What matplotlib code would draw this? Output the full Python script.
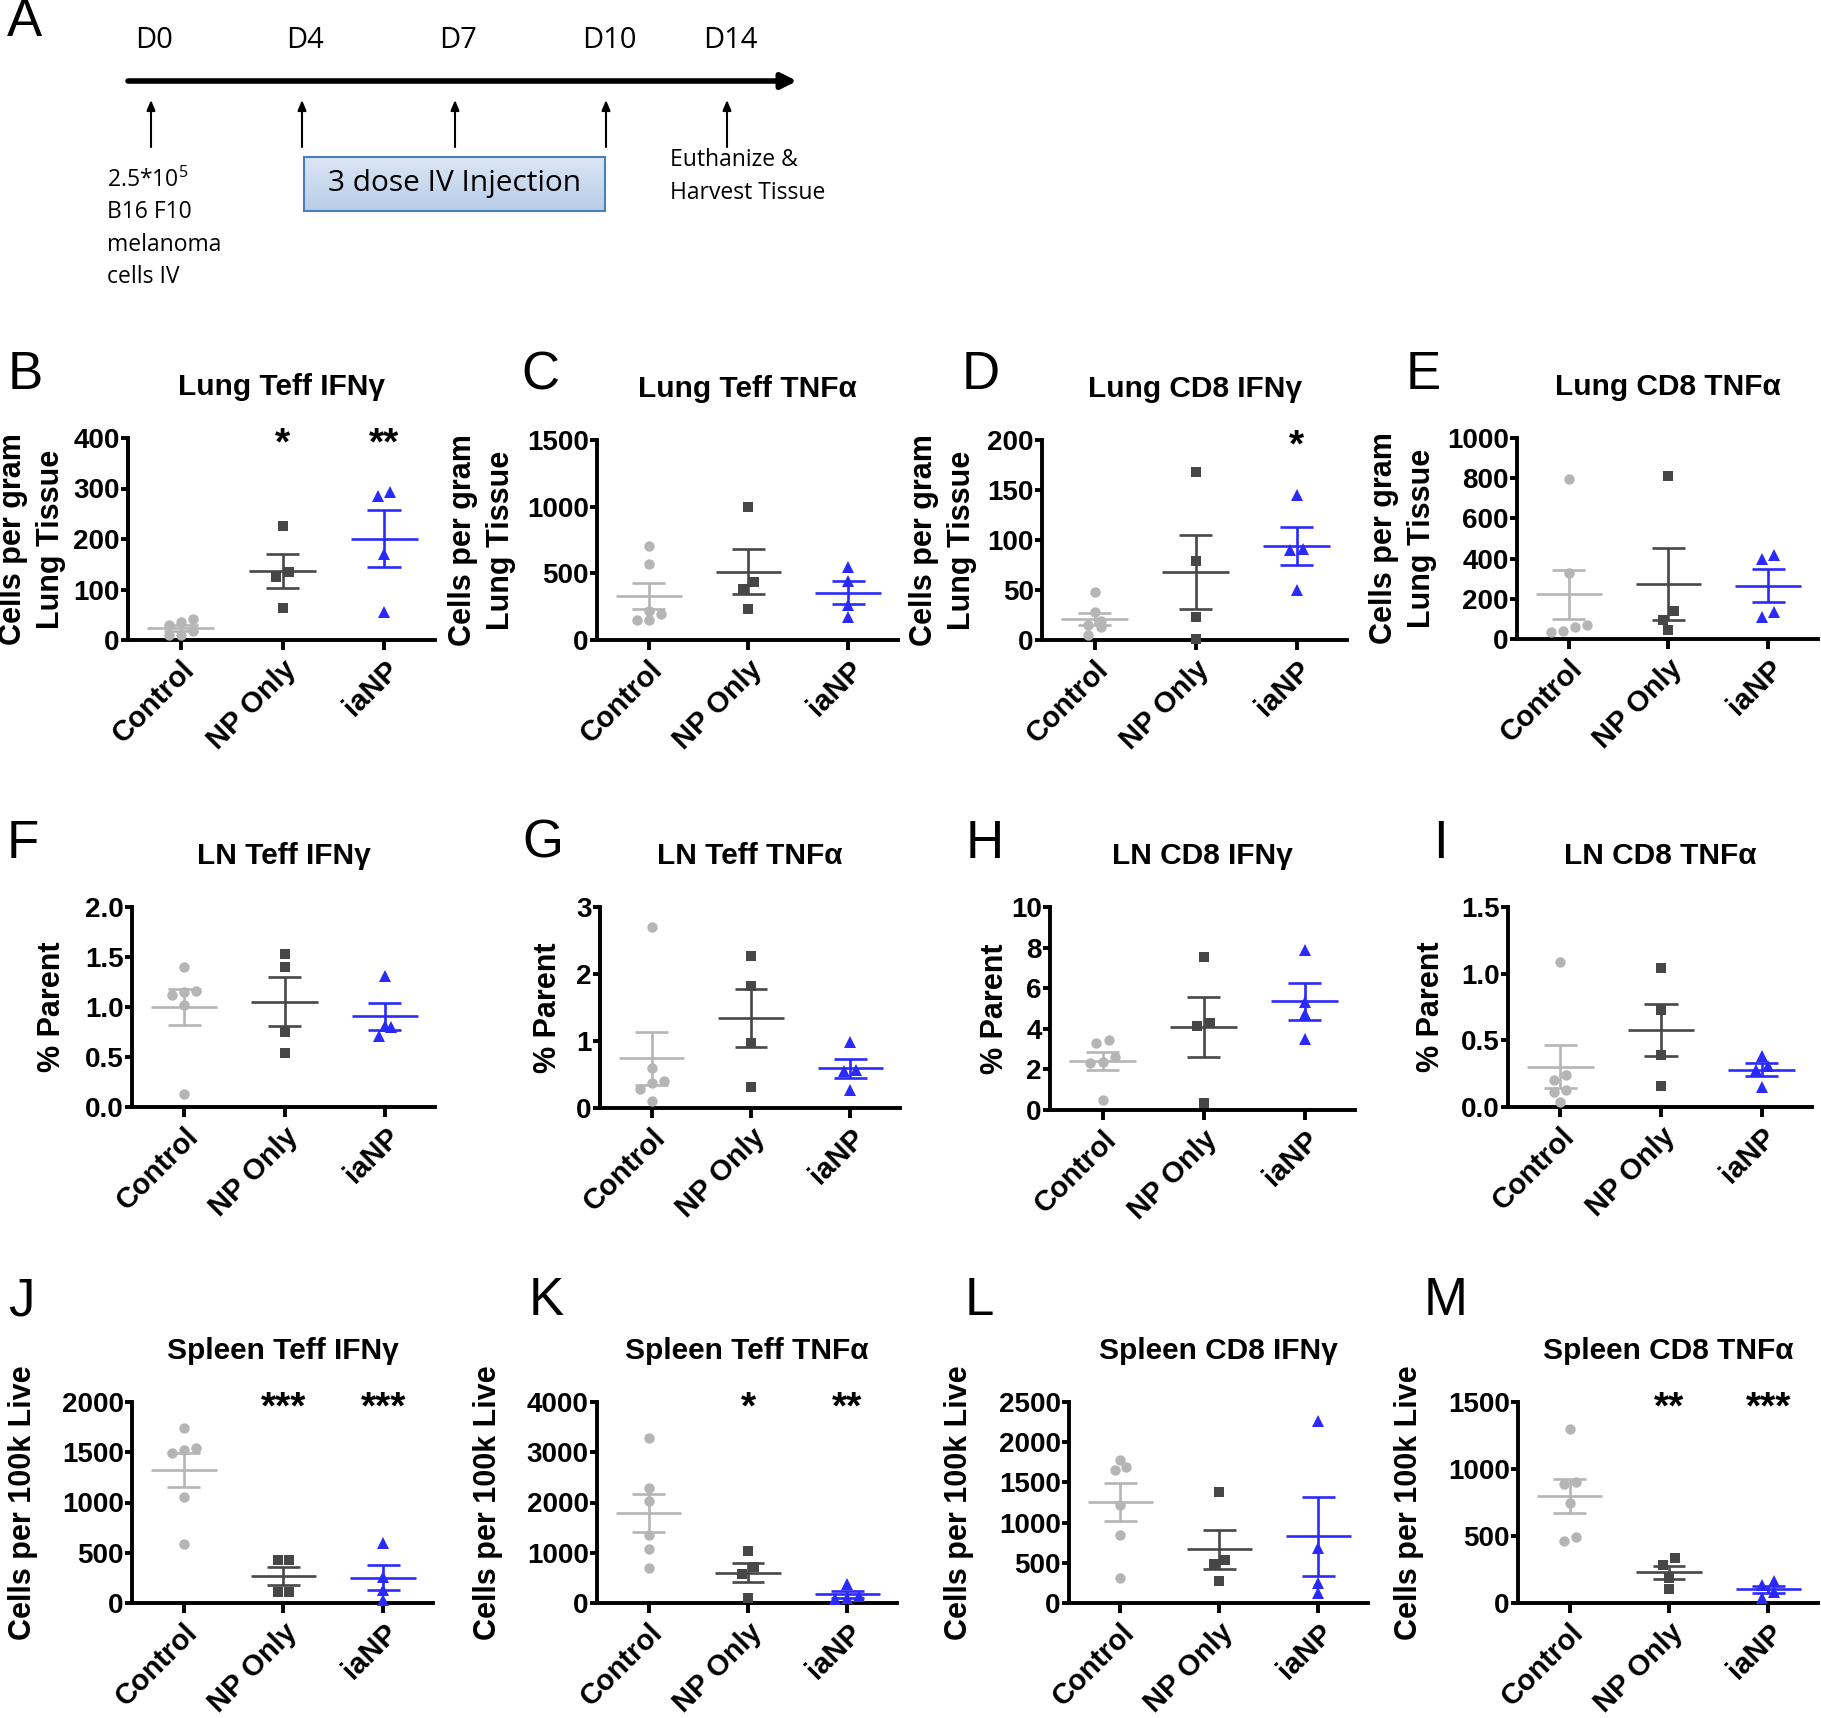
import numpy as np
import matplotlib
matplotlib.use('Agg')
import matplotlib.pyplot as plt
from matplotlib.patches import Rectangle
from matplotlib.colors import LinearSegmentedColormap

plt.rcParams['font.family'] = ['Liberation Sans', 'DejaVu Sans']

W, H = 1821, 1718
fig = plt.figure(figsize=(W / 100, H / 100), dpi=100)

# ---------------- data ----------------
groups = ['Control', 'NP Only', 'iaNP']
group_colors = ['#b5b5b5', '#474747', '#2a2aff']
group_markers = ['o', 's', '^']

lung_teff_ifng = [[42, 35, 30, 18, 10, 10], [225, 135, 125, 63], [285, 293, 170, 55]]
lung_teff_tnfa = [[705, 568, 193, 150, 150, 218], [1000, 437, 382, 232], [545, 440, 262, 170]]
lung_cd8_ifng = [[48, 28, 15, 19, 13, 5], [168, 79, 23, 1], [145, 91, 90, 50]]
lung_cd8_tnfa = [[795, 328, 60, 35, 40, 72], [813, 138, 97, 47], [417, 400, 110, 133]]
ln_teff_ifng = [[1.40, 1.12, 1.16, 1.15, 1.02, 0.13], [1.53, 1.40, 0.75, 0.54], [1.31, 0.81, 0.80, 0.71]]
ln_teff_tnfa = [[2.70, 0.59, 0.38, 0.41, 0.28, 0.10], [2.27, 1.82, 0.97, 0.32], [0.98, 0.57, 0.55, 0.27]]
ln_cd8_ifng = [[3.45, 3.29, 2.63, 2.38, 2.30, 0.48], [7.55, 4.28, 4.14, 0.36], [7.89, 5.30, 4.72, 3.52]]
ln_cd8_tnfa = [[1.09, 0.24, 0.205, 0.125, 0.11, 0.04], [1.04, 0.725, 0.39, 0.16], [0.305, 0.28, 0.38, 0.15]]
spleen_teff_ifng = [[1740, 1540, 1490, 1523, 1057, 590], [427, 427, 107, 107], [600, 260, 125, 25]]
spleen_teff_tnfa = [[3278, 2285, 2033, 1358, 1079, 695], [1026, 709, 583, 93], [377, 146, 93, 80]]
spleen_cd8_ifng = [[1778, 1691, 1658, 1222, 850, 311], [1380, 530, 485, 278], [2260, 690, 250, 120]]
spleen_cd8_tnfa = [[1295, 906, 886, 749, 496, 459], [335, 285, 186, 107], [161, 131, 79, 37]]

stars_lung_teff_ifng = ['', '*', '**']
stars_lung_cd8_ifng = ['', '', '*']
stars_spleen_teff_ifng = ['', '***', '***']
stars_spleen_teff_tnfa = ['', '*', '**']
stars_spleen_cd8_tnfa = ['', '**', '***']
no_stars = ['', '', '']

timeline_days = ['D0', 'D4', 'D7', 'D10', 'D14']

ylab_lung = 'Cells per gram\nLung Tissue'
ylab_ln = '% Parent'
ylab_spleen = 'Cells per 100k Live'

# panel: letter, title, data, ymax, step, fmt, ylabel, stars, box(px: l, r, t, b), ylabel centre offset px
panels = [
    ('B', 'Lung Teff IFN\u03b3', lung_teff_ifng, 400, 100, '{:.0f}', ylab_lung, stars_lung_teff_ifng, (128, 435, 438, 640), -96),
    ('C', 'Lung Teff TNF\u03b1', lung_teff_tnfa, 1500, 500, '{:.0f}', ylab_lung, no_stars, (597, 898, 440, 640), -115),
    ('D', 'Lung CD8 IFN\u03b3', lung_cd8_ifng, 200, 50, '{:.0f}', ylab_lung, stars_lung_cd8_ifng, (1042, 1347, 440, 640), -99),
    ('E', 'Lung CD8 TNF\u03b1', lung_cd8_tnfa, 1000, 200, '{:.0f}', ylab_lung, no_stars, (1517, 1818, 438, 639), -114),
    ('F', 'LN Teff IFN\u03b3', ln_teff_ifng, 2.0, 0.5, '{:.1f}', ylab_ln, no_stars, (132, 435, 907, 1107), -80),
    ('G', 'LN Teff TNF\u03b1', ln_teff_tnfa, 3, 1, '{:.0f}', ylab_ln, no_stars, (600, 900, 907, 1108), -52),
    ('H', 'LN CD8 IFN\u03b3', ln_cd8_ifng, 10, 2, '{:.0f}', ylab_ln, no_stars, (1050, 1355, 907, 1110), -55),
    ('I', 'LN CD8 TNF\u03b1', ln_cd8_tnfa, 1.5, 0.5, '{:.1f}', ylab_ln, no_stars, (1508, 1812, 907, 1107), -77),
    ('J', 'Spleen Teff IFN\u03b3', spleen_teff_ifng, 2000, 500, '{:.0f}', ylab_spleen, stars_spleen_teff_ifng, (132, 433, 1402, 1603), -109),
    ('K', 'Spleen Teff TNF\u03b1', spleen_teff_tnfa, 4000, 1000, '{:.0f}', ylab_spleen, stars_spleen_teff_tnfa, (597, 897, 1402, 1603), -109),
    ('L', 'Spleen CD8 IFN\u03b3', spleen_cd8_ifng, 2500, 500, '{:.0f}', ylab_spleen, no_stars, (1069, 1368, 1402, 1603), -110),
    ('M', 'Spleen CD8 TNF\u03b1', spleen_cd8_tnfa, 1500, 500, '{:.0f}', ylab_spleen, stars_spleen_cd8_tnfa, (1518, 1818, 1402, 1603), -109),
]


def swarm_offsets(vals, px_per_unit, diam_px=9, step=0.12):
    vals = np.asarray(vals, float)
    order = np.argsort(vals)
    offs = np.zeros(len(vals))
    rows, cur, start = [], [], None
    for i in order:
        y = vals[i] * px_per_unit
        if cur and y - start > diam_px:
            rows.append(cur)
            cur = []
        if not cur:
            start = y
        cur.append(i)
    if cur:
        rows.append(cur)
    for r in rows:
        n = len(r)
        for k, i in enumerate(r):
            offs[i] = (k - (n - 1) / 2) * step
    return offs


TICK_FS = 20
XT_FS = 21
TITLE_FS = 21.5
YLAB_FS = 22
SPINE_LW = 2.8
LINE_LW = 1.9

for (letter, title, data, ymax, step, fmt, ylabel, stars, box, yoff) in panels:
    l, r, t, b = box
    ax = fig.add_axes([l / W, 1 - b / H, (r - l) / W, (b - t) / H])
    ax.set_xlim(-0.52, 2.5)
    ax.set_ylim(0, ymax)
    px_per_unit = (b - t) / ymax
    for gi, vals in enumerate(data):
        offs = swarm_offsets(vals, px_per_unit)
        ax.plot(gi + offs, vals, linestyle='none', marker=group_markers[gi],
                color=group_colors[gi], markersize=7.5 if group_markers[gi] != '^' else 8,
                markeredgewidth=0, clip_on=False, zorder=3)
        v = np.asarray(vals, float)
        m = v.mean()
        sem = v.std(ddof=1) / np.sqrt(len(v))
        c = group_colors[gi]
        ax.plot([gi - 0.33, gi + 0.33], [m, m], color=c, lw=LINE_LW, zorder=4, solid_capstyle='butt')
        ax.plot([gi - 0.165, gi + 0.165], [m + sem, m + sem], color=c, lw=LINE_LW, zorder=4, solid_capstyle='butt')
        ax.plot([gi - 0.165, gi + 0.165], [m - sem, m - sem], color=c, lw=LINE_LW, zorder=4, solid_capstyle='butt')
        ax.plot([gi, gi], [m - sem, m + sem], color=c, lw=LINE_LW, zorder=4, solid_capstyle='butt')
        if stars[gi]:
            ax.annotate(stars[gi], xy=(gi, ymax), xytext=(0, -5), textcoords='offset points',
                        ha='center', va='center', fontsize=28, fontweight='bold',
                        color='black', annotation_clip=False)
    for side in ['top', 'right']:
        ax.spines[side].set_visible(False)
    for side in ['left', 'bottom']:
        ax.spines[side].set_linewidth(SPINE_LW)
    yt = np.arange(0, ymax + step / 2, step)
    ax.set_yticks(yt)
    ax.set_yticklabels([fmt.format(v) for v in yt], fontsize=TICK_FS, fontweight='bold')
    ax.set_xticks(range(3))
    ax.set_xticklabels(groups, fontsize=XT_FS, fontweight='bold', rotation=45,
                       ha='right', va='top', rotation_mode='anchor')
    ax.tick_params(axis='y', length=5, width=SPINE_LW, pad=1)
    ax.tick_params(axis='x', length=7, width=SPINE_LW, pad=4)
    ax.set_ylabel(ylabel, fontsize=YLAB_FS, fontweight='bold', linespacing=1.35, va='center')
    ax.yaxis.set_label_coords(yoff / (r - l), 0.5)
    ax.text(0.5, 1 + 51 / (b - t), title, transform=ax.transAxes, ha='center', va='center',
            fontsize=TITLE_FS, fontweight='bold')

# ---------------- overlay: panel A and letters ----------------
ov = fig.add_axes([0, 0, 1, 1], zorder=-1)
ov.axis('off')

letters = {'A': (24, 22), 'B': (25, 375), 'C': (540, 375), 'D': (981, 375), 'E': (1423, 375),
           'F': (23, 844), 'G': (543, 844), 'H': (985, 844), 'I': (1440, 844),
           'J': (21, 1301), 'K': (546, 1301), 'L': (979, 1301), 'M': (1446, 1301)}
for k, (x, y) in letters.items():
    ov.text(x, y, k, fontsize=38, ha='center', va='center')

# timeline
tl_x = [151, 302, 455, 606, 727]
ov.annotate('', xy=(797, 81), xytext=(128, 81),
            arrowprops=dict(arrowstyle='-|>,head_length=0.9,head_width=0.45', lw=4,
                            color='black', shrinkA=0, shrinkB=0))
for d, x in zip(timeline_days, tl_x):
    ov.text(x + 3, 40, d, fontsize=21, ha='center', va='center', family='Open Sans')
    ov.annotate('', xy=(x, 100), xytext=(x, 147),
                arrowprops=dict(arrowstyle='-|>,head_length=0.6,head_width=0.25', lw=1.5,
                                color='black', shrinkA=0, shrinkB=0))

grad = np.linspace(0, 1, 50).reshape(-1, 1)
cm = LinearSegmentedColormap.from_list('bx', ['#dbe6f4', '#b8cde8'])
ov.imshow(grad, cmap=cm, extent=(304, 605, 211, 157), aspect='auto', zorder=1)
ov.add_patch(Rectangle((304, 157), 301, 54, facecolor='none', edgecolor='#4a7ebb', lw=1.5, zorder=2))
ov.text(455, 184, '3 dose IV Injection', fontsize=21.5, ha='center', va='center',
        family='Open Sans', zorder=3)

ov.text(107, 180, '2.5*10$\\mathregular{^5}$', fontsize=16.5, ha='left', va='center', family='Open Sans')
for txt, y in zip(['B16 F10', 'melanoma', 'cells IV'], [212, 245, 277]):
    ov.text(107, y, txt, fontsize=16.5, ha='left', va='center', family='Open Sans')
ov.text(670, 160, 'Euthanize &', fontsize=16.5, ha='left', va='center', family='Open Sans')
ov.text(670, 193, 'Harvest Tissue', fontsize=16.5, ha='left', va='center', family='Open Sans')

ov.set_xlim(0, W)
ov.set_ylim(H, 0)

fig.savefig('out.png', dpi=100)
